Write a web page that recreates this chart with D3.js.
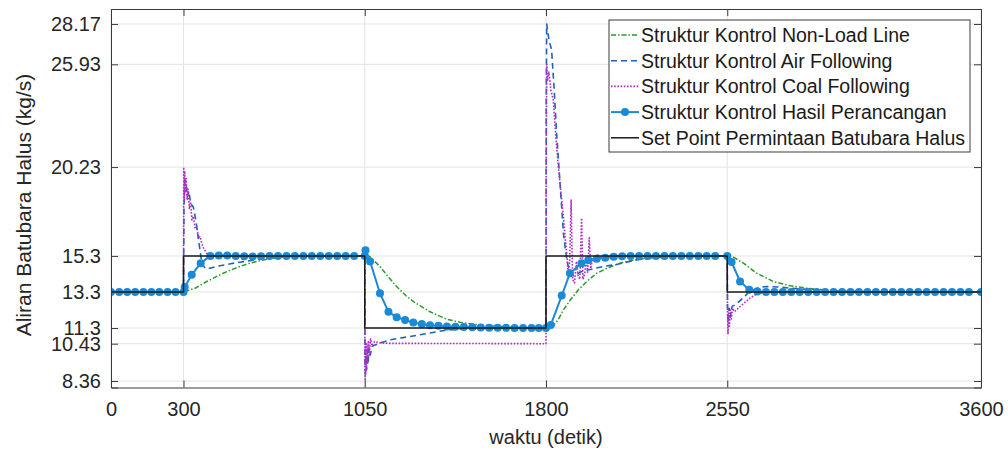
<!DOCTYPE html>
<html>
<head>
<meta charset="utf-8">
<script src="https://cdn.jsdelivr.net/npm/d3@7"></script>
<style>
  body { margin: 0; background: #fff; }
  svg { display: block; font-family: "Liberation Sans", Arial, sans-serif; }
</style>
</head>
<body>
<svg id="chart" width="1008" height="453"></svg>
<script>
'use strict';

/* Data */

var xTicks = [0, 300, 1050, 1800, 2550, 3600]
var yTicks = [8.36, 10.43, 11.3, 13.3, 15.3, 20.23, 25.93, 28.17]
var yTickLabels = ['8.36', '10.43', '11.3', '13.3', '15.3', '20.23', '25.93', '28.17']

var legendLabels = [
  'Struktur Kontrol Non-Load Line',
  'Struktur Kontrol Air Following',
  'Struktur Kontrol Coal Following',
  'Struktur Kontrol Hasil Perancangan',
  'Set Point Permintaan Batubara Halus'
]

// set point
var setpointT = [0, 300, 300, 1050, 1050, 1800, 1800, 2550, 2550, 3600]
var setpointV = [13.3, 13.3, 15.3, 15.3, 11.3, 11.3, 15.3, 15.3, 13.3, 13.3]

// non-load line
var nonLoadT = [0, 300, 350, 396, 440, 479, 530, 575, 620, 672, 741, 800, 880, 1050,
  1070, 1113, 1150, 1182, 1220, 1251, 1290, 1320, 1389, 1450, 1520, 1600, 1700, 1800,
  1824, 1850, 1872, 1900, 1934, 1970, 2010, 2060, 2106, 2160, 2217, 2272, 2350, 2450, 2550,
  2570, 2617, 2672, 2741, 2810, 2879, 2975, 3060, 3150, 3300, 3600]
var nonLoadV = [13.3, 13.3, 13.52, 13.88, 14.18, 14.43, 14.7, 14.9, 15.05, 15.18, 15.27, 15.29, 15.3, 15.3,
  15.28, 14.71, 14.1, 13.6, 13.1, 12.77, 12.45, 12.2, 11.79, 11.6, 11.47, 11.39, 11.33, 11.3,
  11.32, 11.75, 12.3, 12.85, 13.42, 13.9, 14.34, 14.66, 14.9, 15.06, 15.18, 15.24, 15.28, 15.3, 15.3,
  15.28, 14.9, 14.34, 13.88, 13.64, 13.51, 13.38, 13.34, 13.31, 13.3, 13.3]

// air following
var airT = [0, 300, 302, 306, 310, 316, 322, 330, 341, 352, 362, 376, 390, 410, 450, 500, 534, 580, 620, 670, 720, 800, 1050,
  1051, 1053, 1055, 1058, 1061, 1064, 1068, 1073, 1080, 1090, 1110, 1154, 1200, 1250, 1320, 1389, 1450, 1550, 1650, 1800,
  1801, 1803, 1812, 1823, 1834, 1844, 1858, 1872, 1886, 1899, 1915, 1950, 2000, 2037, 2100, 2175, 2250, 2320, 2550,
  2551, 2554, 2558, 2563, 2570, 2585, 2610, 2640, 2680, 2713, 2760, 2810, 2920, 3000, 3100, 3200, 3600]
var airV = [13.3, 13.3, 18.0, 19.5, 19.4, 18.6, 18.9, 18.2, 18.0, 17.2, 16.2, 14.9, 14.6, 14.62, 14.75, 14.88, 14.95, 15.05, 15.15, 15.2, 15.26, 15.3, 15.3,
  9.5, 8.6, 9.8, 9.0, 10.1, 9.3, 10.2, 9.8, 10.27, 10.35, 10.45, 10.64, 10.75, 10.86, 11.02, 11.19, 11.24, 11.28, 11.3, 11.3,
  24.0, 28.17, 27.3, 26.75, 24.5, 22.1, 19.35, 16.56, 15.08, 14.34, 14.2, 14.45, 14.6, 14.71, 14.85, 15.08, 15.2, 15.28, 15.3,
  12.5, 11.6, 12.4, 11.9, 12.5, 12.6, 12.9, 13.3, 13.55, 13.6, 13.58, 13.51, 13.42, 13.36, 13.32, 13.3, 13.3]

// coal following
var coalT = [0, 300, 301, 303, 305, 308, 311, 315, 319, 324, 329, 335, 341, 348, 355, 362, 368, 380, 396, 420, 1050,
  1051, 1052, 1054, 1056, 1059, 1062, 1065, 1069, 1074, 1080, 1090, 1110, 1150, 1800,
  1801, 1803, 1806, 1812, 1820, 1830, 1840, 1851, 1862, 1872, 1880, 1886, 1892, 1898, 1904, 1910, 1918, 1926, 1933,
  1940, 1947, 1953, 1960, 1966, 1972, 1979, 1985, 1992, 2000, 2010, 2025, 2050, 2550,
  2551, 2553, 2556, 2559, 2563, 2567, 2572, 2580, 2603, 2644, 2672, 2700, 2740, 3600]
var coalV = [13.3, 13.3, 20.23, 18.5, 20.0, 18.8, 19.6, 18.4, 19.0, 17.9, 18.3, 17.3, 17.5, 16.8, 16.9, 16.3, 16.38, 15.8, 15.45, 15.3, 15.3,
  9.0, 8.36, 10.5, 8.9, 10.4, 9.3, 10.6, 9.8, 10.7, 10.3, 10.55, 10.48, 10.45, 10.43,
  20.0, 25.93, 25.0, 25.5, 24.5, 23.97, 22.0, 20.27, 18.8, 17.49, 16.2, 15.45, 14.3, 15.0, 18.4, 14.0, 13.8, 15.0, 14.2,
  14.0, 17.4, 14.0, 14.3, 15.2, 14.4, 16.3, 14.6, 15.1, 15.0, 15.4, 15.25, 15.3, 15.3,
  12.5, 11.0, 12.2, 11.4, 12.3, 11.8, 12.4, 12.2, 12.49, 12.96, 13.19, 13.27, 13.3, 13.3]

// designed control structure (markers at every sample)
var designT = [0, 34, 67, 100, 134, 167, 200, 234, 267, 300,
  305, 334, 371, 411, 446, 481, 516, 551, 586, 621, 656, 691, 726, 761, 796, 831, 866, 901, 936, 971, 1006, 1050,
  1053, 1072, 1113, 1148, 1182, 1217, 1251, 1286, 1320, 1355, 1390, 1425, 1460, 1495, 1530, 1565, 1600, 1635, 1670, 1705, 1740, 1770, 1800,
  1820, 1865, 1899, 1947, 1975, 2010, 2045, 2080, 2115, 2150, 2185, 2220, 2255, 2290, 2325, 2360, 2395, 2430, 2465, 2500, 2550,
  2568, 2603, 2641, 2675, 2710, 2745, 2780, 2815, 2850, 2885, 2920, 2955, 2990, 3025, 3060, 3095, 3130, 3165, 3200, 3235, 3270,
  3305, 3340, 3375, 3410, 3445, 3480, 3515, 3550, 3600]
var designV = [13.3, 13.3, 13.3, 13.3, 13.3, 13.3, 13.3, 13.3, 13.3, 13.3,
  13.58, 14.25, 14.9, 15.3, 15.33, 15.32, 15.3, 15.28, 15.27, 15.28, 15.29, 15.3, 15.3, 15.3, 15.3, 15.3, 15.3, 15.3, 15.3, 15.3, 15.3, 15.3,
  15.62, 14.99, 13.23, 12.2, 11.9, 11.75, 11.6, 11.52, 11.46, 11.42, 11.39, 11.37, 11.35, 11.34, 11.33, 11.32, 11.31, 11.31, 11.3, 11.3, 11.3, 11.3, 11.3,
  11.47, 13.1, 14.34, 14.9, 15.08, 15.15, 15.2, 15.25, 15.28, 15.29, 15.3, 15.3, 15.3, 15.3, 15.3, 15.3, 15.3, 15.3, 15.3, 15.3, 15.3,
  14.96, 13.88, 13.42, 13.32, 13.3, 13.3, 13.3, 13.3, 13.3, 13.3, 13.3, 13.3, 13.3, 13.3, 13.3, 13.3, 13.3, 13.3, 13.3, 13.3, 13.3,
  13.3, 13.3, 13.3, 13.3, 13.3, 13.3, 13.3, 13.3, 13.3]

/* Chart */

var svg = d3.select('#chart')
var plotLeft = 111, plotRight = 981, plotTop = 9, plotBottom = 387.5
var textColor = '#262626'

var x = d3.scaleLinear().domain([0, 3600]).range([plotLeft, plotRight])
var y = d3.scaleLinear().domain([8, 29]).range([plotBottom, plotTop])

function zip(ts, vs) {
  return ts.map(function(t, i) { return {t: t, v: vs[i]} })
}

// grid
var grid = svg.append('g').attr('class', 'grid')
grid.selectAll('.gx').data(xTicks).enter().append('line')
  .attr('x1', function(d){ return x(d) }).attr('x2', function(d){ return x(d) })
  .attr('y1', plotTop).attr('y2', plotBottom)
  .attr('stroke', '#e3e3e3').attr('stroke-width', 1)
grid.selectAll('.gy').data(yTicks).enter().append('line')
  .attr('y1', function(d){ return y(d) }).attr('y2', function(d){ return y(d) })
  .attr('x1', plotLeft).attr('x2', plotRight)
  .attr('stroke', '#e3e3e3').attr('stroke-width', 1)

// series
var line = d3.line()
  .x(function(d) { return x(d.t) })
  .y(function(d) { return y(d.v) })

svg.append('clipPath').attr('id', 'clip').append('rect')
  .attr('x', plotLeft).attr('y', plotTop)
  .attr('width', plotRight - plotLeft).attr('height', plotBottom - plotTop)
var plot = svg.append('g')
  .attr('clip-path', 'url(#clip)')

var series = [
  {data: zip(nonLoadT, nonLoadV), color: '#2a9a2a', width: 1.5, dash: '5,2,1.5,2'},
  {data: zip(airT, airV), color: '#2262b2', width: 1.6, dash: '6,4'},
  {data: zip(coalT, coalV), color: '#b02ec4', width: 1.6, dash: '1.6,1.6'},
  {data: zip(designT, designV), color: '#1b8ad6', width: 2, dash: null, marker: true},
  {data: zip(setpointT, setpointV), color: '#1a1a1a', width: 1.5, dash: null}
]

series.forEach(function(s) {
  plot.append('path')
    .datum(s.data)
    .attr('fill', 'none')
    .attr('stroke', s.color)
    .attr('stroke-width', s.width)
    .attr('stroke-dasharray', s.dash)
    .attr('stroke-linejoin', 'round')
    .attr('d', line)
  if (s.marker) {
    plot.selectAll('.dot')
      .data(s.data)
      .enter().append('circle')
        .attr('cx', function(d) { return x(d.t) })
        .attr('cy', function(d) { return y(d.v) })
        .attr('r', 4)
        .attr('fill', s.color)
  }
})

// axes (ticks pointing inwards, on all four sides)
var xAxis = d3.axisBottom(x).tickValues(xTicks).tickSize(-7).tickPadding(14)
  .tickFormat(d3.format('d'))
var yAxis = d3.axisLeft(y).tickValues(yTicks).tickSize(-7).tickPadding(10)
  .tickFormat(function(d, i) { return yTickLabels[i] })

svg.append('g').attr('transform', 'translate(0,' + plotBottom + ')').call(xAxis)
svg.append('g').attr('transform', 'translate(' + plotLeft + ',0)').call(yAxis)
svg.append('g').attr('transform', 'translate(0,' + plotTop + ')')
  .call(d3.axisTop(x).tickValues(xTicks).tickSize(-7).tickFormat(''))
svg.append('g').attr('transform', 'translate(' + plotRight + ',0)')
  .call(d3.axisRight(y).tickValues(yTicks).tickSize(-7).tickFormat(''))

svg.selectAll('.domain').attr('stroke', '#3a3a3a').attr('stroke-width', 1)
svg.selectAll('.tick line').attr('stroke', '#3a3a3a')
svg.selectAll('.tick text')
  .attr('fill', textColor)
  .style('font-size', '20px')
  .style('font-family', '"Liberation Sans", Arial, sans-serif')

// labels
svg.append('text')
  .attr('x', (plotLeft + plotRight) / 2).attr('y', 444)
  .attr('text-anchor', 'middle')
  .attr('fill', textColor)
  .style('font-size', '20px')
  .text('waktu (detik)')

svg.append('text')
  .attr('transform', 'translate(31,205) rotate(-90)')
  .attr('text-anchor', 'middle')
  .attr('fill', textColor)
  .style('font-size', '21px')
  .text('Aliran Batubara Halus (kg/s)')

// legend
var legend = svg.append('g').attr('transform', 'translate(609,20)')
legend.append('rect')
  .attr('width', 361).attr('height', 132)
  .attr('fill', '#fff')
  .attr('stroke', '#3a3a3a').attr('stroke-width', 1)

series.forEach(function(s, i) {
  var row = legend.append('g').attr('transform', 'translate(0,' + (15 + i * 25.7) + ')')
  row.append('line')
    .attr('x1', 2).attr('x2', 30)
    .attr('stroke', s.color)
    .attr('stroke-width', s.width)
    .attr('stroke-dasharray', s.dash)
  if (s.marker) {
    row.append('circle').attr('cx', 16).attr('r', 4).attr('fill', s.color)
  }
  row.append('text')
    .attr('x', 32).attr('dy', '0.35em')
    .attr('fill', '#1a1a1a')
    .style('font-size', '19.5px')
    .text(legendLabels[i])
})
</script>
</body>
</html>
